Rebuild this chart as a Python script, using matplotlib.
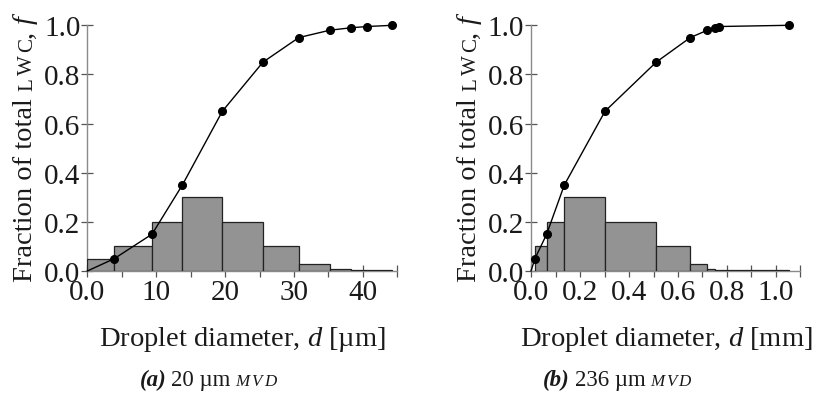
import matplotlib
matplotlib.use('Agg')
import matplotlib.pyplot as plt
from matplotlib.transforms import IdentityTransform
import numpy as np

plt.rcParams['font.family'] = ['Liberation Serif', 'DejaVu Serif']
plt.rcParams['mathtext.fontset'] = 'custom'
plt.rcParams['mathtext.rm'] = 'Liberation Serif'
plt.rcParams['mathtext.it'] = 'Liberation Serif:italic'

# ---------------- data ----------------
diam_a = [0.0, 3.9, 9.4, 13.8, 19.6, 25.5, 30.7, 35.2, 38.3, 40.6, 44.3]          # um
diam_b = [0.0, 0.016, 0.064, 0.136, 0.302, 0.511, 0.650, 0.720, 0.752, 0.766, 1.052]  # mm
cum_frac = [0.0, 0.05, 0.15, 0.35, 0.65, 0.85, 0.95, 0.98, 0.99, 0.995, 1.0]

bin_edges_a = [0.0, 3.9, 9.4, 13.8, 19.6, 25.5, 30.7, 35.2, 38.3, 40.6, 44.3]
bin_frac_a = [0.05, 0.10, 0.20, 0.30, 0.20, 0.10, 0.03, 0.01, 0.005, 0.005]
bin_edges_b = [0.016, 0.064, 0.136, 0.302, 0.511, 0.650, 0.720, 0.752, 0.766, 1.052]
bin_frac_b = [0.10, 0.20, 0.30, 0.20, 0.10, 0.03, 0.01, 0.005, 0.005]

xticks_a = [0, 5, 10, 15, 20, 25, 30, 35, 40, 45]
xlabels_a = ['0.0', '', '10', '', '20', '', '30', '', '40', '']
xticks_b = [0.0, 0.1, 0.2, 0.3, 0.4, 0.5, 0.6, 0.7, 0.8, 0.9, 1.0, 1.1]
xlabels_b = ['0.0', '', '0.2', '', '0.4', '', '0.6', '', '0.8', '', '1.0', '']
yticks = [0.0, 0.2, 0.4, 0.6, 0.8, 1.0]
ylabels = ['0.0', '0.2', '0.4', '0.6', '0.8', '1.0']

W, H = 818, 402
fig = plt.figure(figsize=(W / 100, H / 100), dpi=100)

BAR_FC = '#939393'
SPINE_C = '#8a8a8a'
TICK_C = '#555555'
TICK_FS = 21
LABEL_FS = 20.5


def setup(ax, diam, edges, fracs, xticks, xlabels, xmax):
    ax.bar(edges[:-1], fracs, width=np.diff(edges), align='edge',
           color=BAR_FC, edgecolor='#222222', linewidth=0.9, zorder=2)
    ax.plot(diam, cum_frac, color='black', lw=1.0, zorder=3, clip_on=False)
    ax.plot(diam[1:], cum_frac[1:], 'o', color='black', ms=5.5, zorder=4,
            clip_on=False)
    ax.set_xlim(0, xmax)
    ax.set_ylim(0, 1.0)
    ax.set_xticks(xticks)
    ax.set_xticklabels(xlabels)
    ax.set_yticks(yticks)
    ax.set_yticklabels(ylabels)
    for s in ('top', 'right'):
        ax.spines[s].set_visible(False)
    for s in ('left', 'bottom'):
        ax.spines[s].set_color(SPINE_C)
        ax.spines[s].set_linewidth(1.0)
        ax.spines[s].set_zorder(1.5)
    ax.tick_params(axis='both', direction='inout', length=9, width=0.9,
                   color=TICK_C, labelsize=TICK_FS, labelcolor='#1a1a1a')
    ax.tick_params(axis='x', pad=1.0)
    ax.tick_params(axis='y', pad=0.5)
    ax.set_axisbelow(True)
    ax.patch.set_visible(False)


ax1 = fig.add_axes([87.3 / W, 1 - 272 / H, 310 / W, 245.7 / H])
ax2 = fig.add_axes([531 / W, 1 - 272 / H, 269.5 / W, 245.7 / H])
setup(ax1, diam_a, bin_edges_a, bin_frac_a, xticks_a, xlabels_a, 45)
setup(ax2, diam_b, bin_edges_b, bin_frac_b, xticks_b, xlabels_b, 1.1)

# x labels
fig.text(242 / W, 1 - 346 / H, r'Droplet diameter, $d$ [µm]', ha='center',
         va='baseline', fontsize=LABEL_FS, color='#1a1a1a')
fig.text(666 / W, 1 - 346 / H, r'Droplet diameter, $d$ [mm]', ha='center',
         va='baseline', fontsize=LABEL_FS, color='#1a1a1a')

renderer = fig.canvas.get_renderer()


def rich(pieces, cx, cy, rotation=0):
    """pieces: list of (text, kwargs, gap_after_px); cx, cy in pixels from
    bottom-left. Horizontal: cy is baseline, centered on cx.
    Rotated 90: cx is baseline, centered on cy."""
    arts, advs = [], []
    for s, kw, gap in pieces:
        t = fig.text(0, 0, s, rotation=rotation, rotation_mode='anchor',
                     ha='left', va='baseline', transform=IdentityTransform(),
                     color='#1a1a1a', **kw)
        bb = t.get_window_extent(renderer)
        adv = bb.width if rotation == 0 else bb.height
        arts.append(t)
        advs.append(adv + gap)
    total = sum(advs) - pieces[-1][2]
    pos = -total / 2
    for t, a in zip(arts, advs):
        if rotation == 0:
            t.set_position((cx + pos, cy))
        else:
            t.set_position((cx, cy + pos))
        pos += a


sc = dict(fontsize=LABEL_FS * 0.74)
reg = dict(fontsize=LABEL_FS)
itf = dict(fontsize=LABEL_FS, style='italic')
sp = LABEL_FS * 1.389 * 0.25

for cx in (32, 476):
    rich([('Fraction of total', reg, sp),
          ('L', sc, 3), ('W', sc, 3), ('C', sc, 0.5),
          (',', reg, sp), ('f', itf, 0)],
         cx, H - 149, rotation=90)

CAP_FS = 16.5
capb = dict(fontsize=CAP_FS, style='italic', weight='bold')
capr = dict(fontsize=CAP_FS)
capsc = dict(fontsize=CAP_FS * 0.74, style='italic')
csp = CAP_FS * 1.389 * 0.2
for cx, lab, num in ((208, '(a)', '20 µm'), (617, '(b)', '236 µm')):
    rich([(lab, capb, csp), (num, capr, csp),
          ('M', capsc, 2), ('V', capsc, 2), ('D', capsc, 0)],
         cx, H - 386)

fig.savefig('out.png', dpi=100)
